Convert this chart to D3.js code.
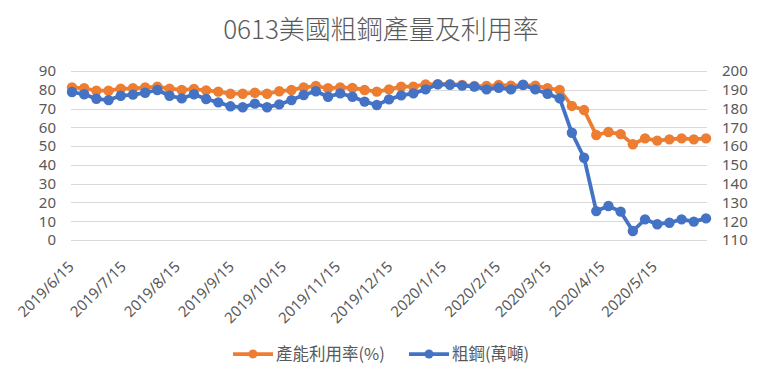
<!DOCTYPE html>
<html>
<head>
<meta charset="utf-8">
<script src="https://cdn.jsdelivr.net/npm/d3@7"></script>
<style>
  html, body { margin: 0; padding: 0; background: #fff; }
  svg { display: block; font-family: "Segoe UI", "Noto Sans", "Noto Sans CJK TC", sans-serif; }
</style>
</head>
<body>
<svg id="chart" width="761" height="381"></svg>
<script>
const title = "0613美國粗鋼產量及利用率";
const dates = [
  "2019-06-15","2019-06-22","2019-06-29","2019-07-06","2019-07-13","2019-07-20","2019-07-27",
  "2019-08-03","2019-08-10","2019-08-17","2019-08-24","2019-08-31","2019-09-07","2019-09-14",
  "2019-09-21","2019-09-28","2019-10-05","2019-10-12","2019-10-19","2019-10-26","2019-11-02",
  "2019-11-09","2019-11-16","2019-11-23","2019-11-30","2019-12-07","2019-12-14","2019-12-21",
  "2019-12-28","2020-01-04","2020-01-11","2020-01-18","2020-01-25","2020-02-01","2020-02-08",
  "2020-02-15","2020-02-22","2020-02-29","2020-03-07","2020-03-14","2020-03-21","2020-03-28",
  "2020-04-04","2020-04-11","2020-04-18","2020-04-25","2020-05-02","2020-05-09","2020-05-16",
  "2020-05-23","2020-05-30","2020-06-06","2020-06-13"
];
const utilization = [
  81.3,80.8,79.5,79.5,80.6,80.8,81.2,81.7,80.6,79.9,80.4,79.7,79.0,77.9,77.9,78.4,
  77.9,79.2,79.9,81.3,82.0,80.8,81.3,81.0,79.9,79.0,80.2,81.7,81.7,82.9,83.0,83.0,
  82.6,82.0,82.0,82.6,82.2,82.5,82.2,80.8,79.9,71.4,69.2,55.9,57.5,56.4,51.0,54.1,
  52.9,53.6,54.1,53.6,54.1
];
const output = [
  188.8,187.6,185.2,184.5,186.8,187.4,188.4,189.9,186.8,185.4,187.6,185.1,183.3,181.2,180.7,182.6,
  180.7,182.2,184.5,187.2,189.2,186.3,188.1,186.3,183.7,181.9,184.9,187.0,188.1,190.2,192.9,192.7,
  192.2,191.7,190.2,191.1,190.2,192.7,190.2,187.9,185.4,167.1,153.8,125.4,128.1,125.1,114.8,121.0,
  118.4,119.2,121.0,119.8,121.5
];
const leftTicks = [0,10,20,30,40,50,60,70,80,90];
const rightTicks = [110,120,130,140,150,160,170,180,190,200];
const xTickDates = [
  "2019-06-15","2019-07-15","2019-08-15","2019-09-15","2019-10-15","2019-11-15",
  "2019-12-15","2020-01-15","2020-02-15","2020-03-15","2020-04-15","2020-05-15"
];
const seriesNames = ["產能利用率(%)", "粗鋼(萬噸)"];
const colors = ["#ED7D31", "#4472C4"];

const parse = d3.timeParse("%Y-%m-%d");
const fmt = d3.timeFormat("%Y/%-m/%-d");
const svg = d3.select("#chart");

const plotL = 71, plotR = 707, plotT = 71, plotB = 240;
const x = d3.scaleTime()
  .domain([parse(dates[0]), parse(dates[dates.length - 1])])
  .range([72, 706]);
const yL = d3.scaleLinear().domain([0, 90]).range([plotB, plotT]);
const yR = d3.scaleLinear().domain([110, 200]).range([plotB, plotT]);
const numFont = "'Segoe UI','Noto Sans',sans-serif";

// title
svg.append("text")
  .attr("x", 381).attr("y", 39)
  .attr("text-anchor", "middle")
  .attr("fill", "#595959")
  .style("font-size", "26px")
  .style("font-weight", "300")
  .style("font-family", "'Noto Sans CJK TC', sans-serif")
  .text(title);

// gridlines
svg.append("g").selectAll("line").data(leftTicks).join("line")
  .attr("x1", plotL).attr("x2", plotR)
  .attr("y1", d => Math.round(yL(d)) + 0.5).attr("y2", d => Math.round(yL(d)) + 0.5)
  .attr("stroke", "#D9D9D9").attr("stroke-width", 1);

// left axis
const axL = d3.axisLeft(yL).tickValues(leftTicks).tickSize(0).tickPadding(0);
const gL = svg.append("g").attr("transform", "translate(56,0)").call(axL);
gL.select(".domain").remove();
gL.selectAll("text").attr("fill", "#595959").style("font-size", "15px")
  .style("font-family", numFont);

// right axis
const axR = d3.axisRight(yR).tickValues(rightTicks).tickSize(0).tickPadding(0);
const gR = svg.append("g").attr("transform", "translate(722,0)").call(axR);
gR.select(".domain").remove();
gR.selectAll("text").attr("fill", "#595959").style("font-size", "15px")
  .style("font-family", numFont);

// x axis labels
const axX = d3.axisBottom(x).tickValues(xTickDates.map(parse)).tickFormat(fmt).tickSize(0).tickPadding(0);
const gX = svg.append("g").call(axX);
gX.select(".domain").remove();
gX.selectAll(".tick").attr("transform", d => `translate(${x(d) - 1},264)`);
gX.selectAll("text")
  .attr("x", 0).attr("y", 0).attr("dy", "0.35em")
  .attr("text-anchor", "end")
  .attr("transform", "rotate(-45)")
  .attr("fill", "#595959")
  .style("font-size", "15px")
  .style("font-family", numFont);

// series
const series = [
  { vals: utilization, y: yL, color: colors[0] },
  { vals: output, y: yR, color: colors[1] }
];
series.forEach(s => {
  const pts = dates.map((d, i) => [x(parse(d)), s.y(s.vals[i])]);
  svg.append("path")
    .attr("d", d3.line()(pts))
    .attr("fill", "none")
    .attr("stroke", s.color)
    .attr("stroke-width", 3.75)
    .attr("stroke-linejoin", "round");
  svg.append("g").selectAll("circle").data(pts).join("circle")
    .attr("cx", d => d[0]).attr("cy", d => d[1]).attr("r", 5.2)
    .attr("fill", s.color);
});

// legend
const legend = [
  { name: seriesNames[0], color: colors[0], x0: 233 },
  { name: seriesNames[1], color: colors[1], x0: 409 }
];
const ly = 354;
legend.forEach(l => {
  svg.append("line").attr("x1", l.x0).attr("x2", l.x0 + 40)
    .attr("y1", ly).attr("y2", ly)
    .attr("stroke", l.color).attr("stroke-width", 3.75);
  svg.append("circle").attr("cx", l.x0 + 20).attr("cy", ly).attr("r", 4.5).attr("fill", l.color);
  svg.append("text").attr("x", l.x0 + 43).attr("y", ly).attr("dy", "0.35em")
    .attr("fill", "#595959")
    .style("font-size", "16.5px")
    .style("font-family", "'Noto Sans CJK TC', sans-serif")
    .text(l.name);
});
</script>
</body>
</html>
